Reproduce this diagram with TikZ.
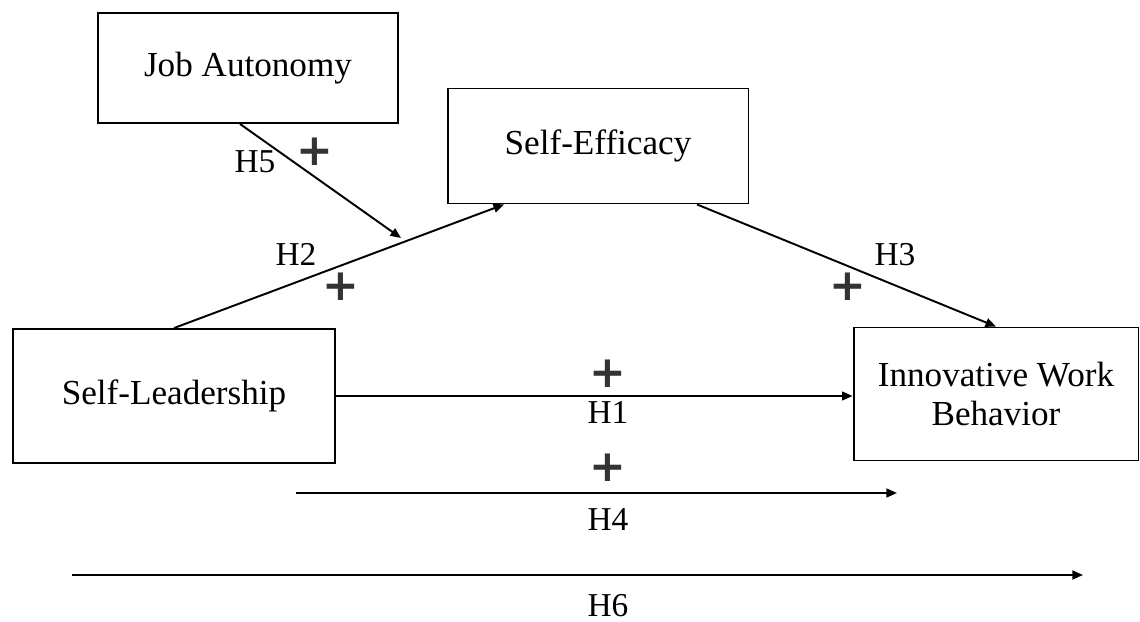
\documentclass[tikz,border=0pt]{standalone}
\usepackage{fontspec}
\setmainfont{Liberation Serif}
\newfontfamily\plusfont{DejaVu Sans}
\definecolor{plusgray}{HTML}{333333}
\usepackage{tikz}
\usetikzlibrary{arrows.meta}

\begin{document}
\begin{tikzpicture}[x=0.02cm, y=-0.02cm,
				box/.style={draw=black, fill=white, line width=1.1pt, align=center, font=\fontsize{20}{22}\selectfont, inner sep=0pt},
				arrow/.style={-{Triangle[length=6pt, width=5pt]}, line width=1.1pt},
				hlabel/.style={font=\fontsize{19}{20}\selectfont},
				plus/.style={font=\plusfont\bfseries\fontsize{25}{25}\selectfont, text=plusgray, inner sep=0pt}
			]
			\useasboundingbox (0,0) rectangle (1140,622);

			% Constructs
			\node[box, minimum width=6cm, minimum height=2.2cm] (autonomy) at (248,68) {Job Autonomy};
			\node[box, minimum width=6.02cm, minimum height=2.3cm] (efficacy) at (598,146) {Self-Efficacy};
			\node[box, minimum width=6.44cm, minimum height=2.68cm] (leader) at (174,396) {Self-Leadership};
			\node[box, minimum width=5.7cm, minimum height=2.66cm] (iwb) at (996,394) {Innovative Work\\Behavior};

			% Free ends
			\coordinate (mod) at (401,238);
			\coordinate (h4start) at (296,493);
			\coordinate (h4end) at (897,493);
			\coordinate (h6start) at (72,575);
			\coordinate (h6end) at (1083,575);

			% Paths
			\draw[arrow] (leader.north) -- (efficacy.south west -| 504,0);
			\draw[arrow] (autonomy.south -| 240,0) -- (mod);
			\draw[arrow] (efficacy.south -| 697,0) -- (iwb.north);
			\draw[arrow] (leader.east) -- (iwb.west |- leader.east);
			\draw[arrow] (h4start) -- (h4end);
			\draw[arrow] (h6start) -- (h6end);

			% Hypotheses
			\node[hlabel] (h5) at (255,162) {H5};
			\node[plus] (p5) at (315,152) {+};
			\node[hlabel] (h2) at (296,254) {H2};
			\node[plus] (p2) at (341,287) {+};
			\node[hlabel] (h3) at (895,255) {H3};
			\node[plus] (p3) at (848,287) {+};
			\node[plus] (p1) at (608,374) {+};
			\node[hlabel] (h1) at (608,412) {H1};
			\node[plus] (p4) at (608,468) {+};
			\node[hlabel] (h4) at (608,520) {H4};
			\node[hlabel] (h6) at (608,606) {H6};
		\end{tikzpicture}
\end{document}
